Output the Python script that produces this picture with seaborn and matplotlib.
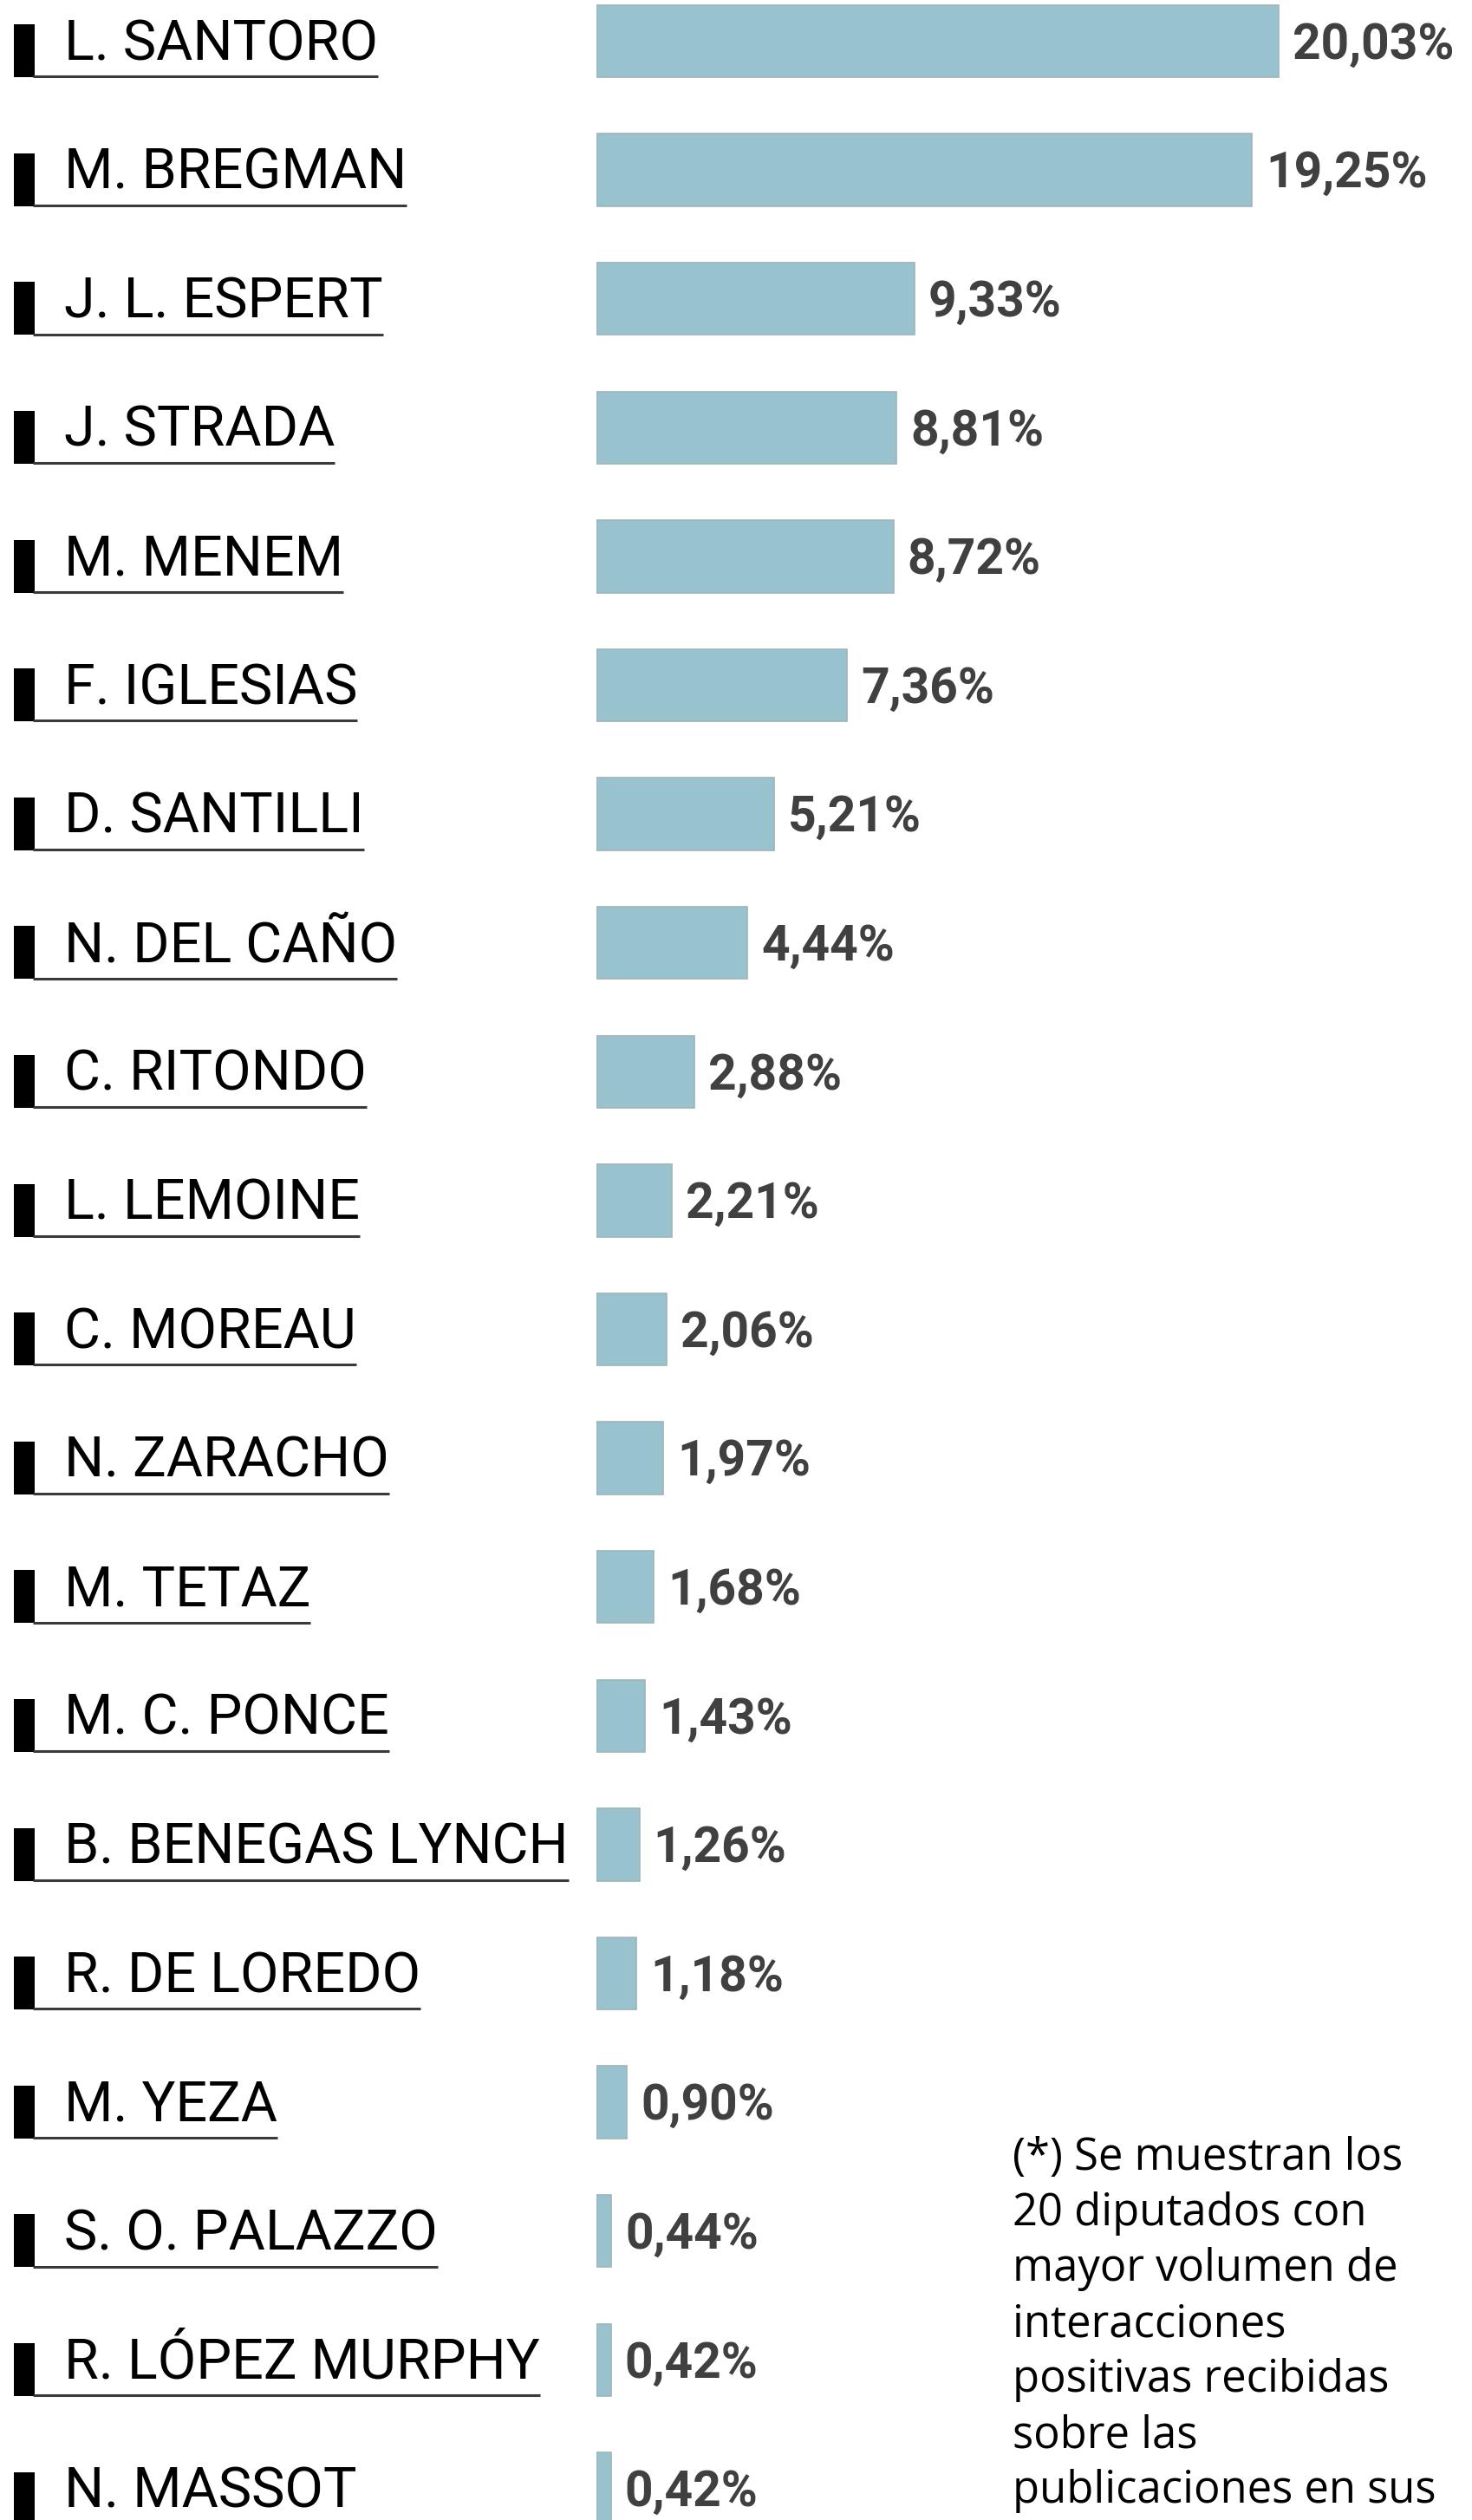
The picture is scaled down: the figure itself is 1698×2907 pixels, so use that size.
import matplotlib
matplotlib.use("Agg")
import matplotlib.pyplot as plt
import matplotlib.transforms as mtransforms
from matplotlib.patches import Rectangle
import seaborn as sns
import pandas as pd

names = ["L. SANTORO", "M. BREGMAN", "J. L. ESPERT", "J. STRADA", "M. MENEM",
         "F. IGLESIAS", "D. SANTILLI", "N. DEL CAÑO", "C. RITONDO", "L. LEMOINE",
         "C. MOREAU", "N. ZARACHO", "M. TETAZ", "M. C. PONCE", "B. BENEGAS LYNCH",
         "R. DE LOREDO", "M. YEZA", "S. O. PALAZZO", "R. LÓPEZ MURPHY", "N. MASSOT"]
shares = [20.03, 19.25, 9.33, 8.81, 8.72, 7.36, 5.21, 4.44, 2.88, 2.21,
          2.06, 1.97, 1.68, 1.43, 1.26, 1.18, 0.90, 0.44, 0.42, 0.42]
note_lines = ["(*) Se muestran los", "20 diputados con", "mayor volumen de",
              "interacciones", "positivas recibidas", "sobre las",
              "publicaciones en sus"]

df = pd.DataFrame({"name": names, "share": shares})

W, H = 1699, 2907
sns.set_style("white")
plt.rcParams["font.family"] = ["Roboto", "DejaVu Sans"]

fig = plt.figure(figsize=(W / 100, H / 100), dpi=100)
x0 = 688
px_per_pct = (1475 - x0) / 20.03
pitch = 148.6
ax = fig.add_axes([x0 / W, 0, (W - x0) / W, 1])

sns.barplot(data=df, x="share", y="name", orient="h", color="#98c2ce",
            saturation=1, width=0.56, edgecolor="#9fb3ba", linewidth=1.2, ax=ax)
ax.set_xlim(0, (W - x0) / px_per_pct)
ax.set_ylim((H - 47.5) / pitch, -47.5 / pitch)
ax.axis("off")

# value labels
for i, v in enumerate(shares):
    ax.text(v + 16 / px_per_pct, i + 0.135, f"{v:.2f}".replace(".", ",") + "%",
            fontsize=41, fontweight="bold", color="#404040", va="baseline", ha="left")

# names with black marker and underline
trans = mtransforms.blended_transform_factory(fig.transFigure, ax.transData)
labels = []
for i, n in enumerate(names):
    t = ax.text(74 / W, i + 0.145, n, transform=trans, fontsize=46.5,
                color="black", va="baseline", ha="left", clip_on=False)
    labels.append(t)
    ax.add_patch(Rectangle((16 / W, i - 0.13), 24 / W, 0.41, transform=trans,
                           facecolor="black", edgecolor="none", clip_on=False))

fig.canvas.draw()
renderer = fig.canvas.get_renderer()
for i, t in enumerate(labels):
    bb = t.get_window_extent(renderer)
    ax.plot([38 / W, bb.x1 / W], [i + 0.275, i + 0.275], transform=trans,
            color="#3a3a3a", lw=2.2, clip_on=False, solid_capstyle="butt")

# footnote
for k, line in enumerate(note_lines):
    fig.text(1168 / W, 1 - (2503 + 64 * k) / H, line, fontsize=36.5,
             family=["Open Sans", "DejaVu Sans"], color="black",
             va="baseline", ha="left")

fig.savefig("out.png", dpi=100, facecolor="white")
